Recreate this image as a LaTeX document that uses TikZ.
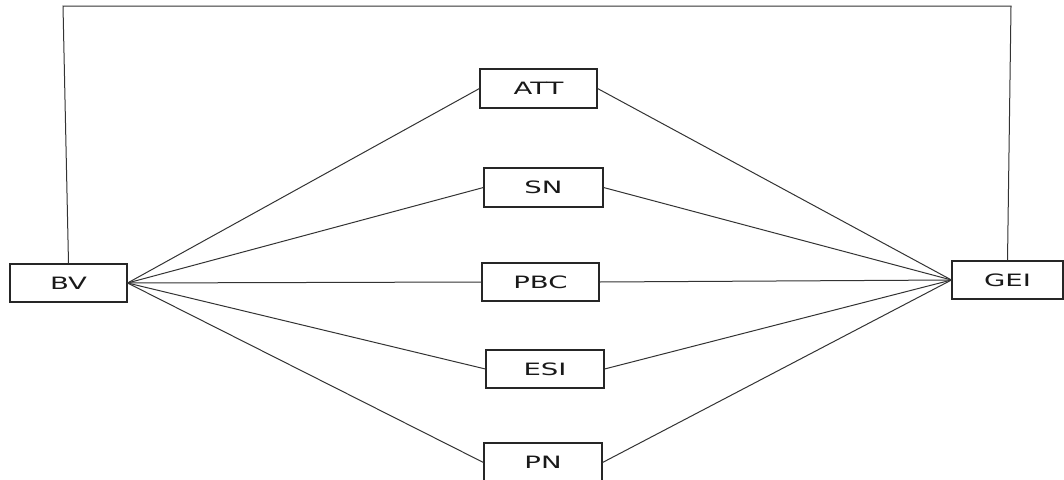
\documentclass[tikz,border=0pt]{standalone}
\usepackage{fontspec}
\setmainfont{DejaVu Sans}
\usepackage{graphicx}
\begin{document}
\begin{tikzpicture}[x=1pt,y=-1pt,
  box/.style={draw=black!85, line width=1.1pt, fill=white, inner sep=0pt,
    minimum height=38pt, font=\fontsize{17}{18}\selectfont, text=black!90},
  link/.style={draw=black!80, line width=1pt}]
\useasboundingbox (0,0) rectangle (1064,479);
\newcommand{\wtxt}[1]{\scalebox{1.62}[1]{#1}}
\node[box, minimum width=117pt] (BV)  at (68.5,283)   {\wtxt{BV}};
\node[box, minimum width=117pt, minimum height=39pt] (ATT) at (538.5,88.5) {\wtxt{ATT}};
\node[box, minimum width=119pt, minimum height=39pt] (SN)  at (543.5,187.5) {\wtxt{SN}};
\node[box, minimum width=117pt] (PBC) at (540.5,282)  {\wtxt{PBC}};
\node[box, minimum width=118pt] (ESI) at (545,369)    {\wtxt{ESI}};
\node[box, minimum width=118pt, minimum height=39pt] (PN)  at (543,462.5) {\wtxt{PN}};
\node[box, minimum width=111pt] (GEI) at (1007.5,280) {\wtxt{GEI}};
\coordinate (tl) at (63,6);
\coordinate (tr) at (1011,6);
\draw[link] (BV.north) -- (tl) -- (tr) -- (GEI.north);
\foreach \n in {ATT,SN,PBC,ESI,PN}{
  \draw[link] (BV.east) -- (\n.west);
  \draw[link] (\n.east) -- (GEI.west);
}
\end{tikzpicture}
\end{document}
